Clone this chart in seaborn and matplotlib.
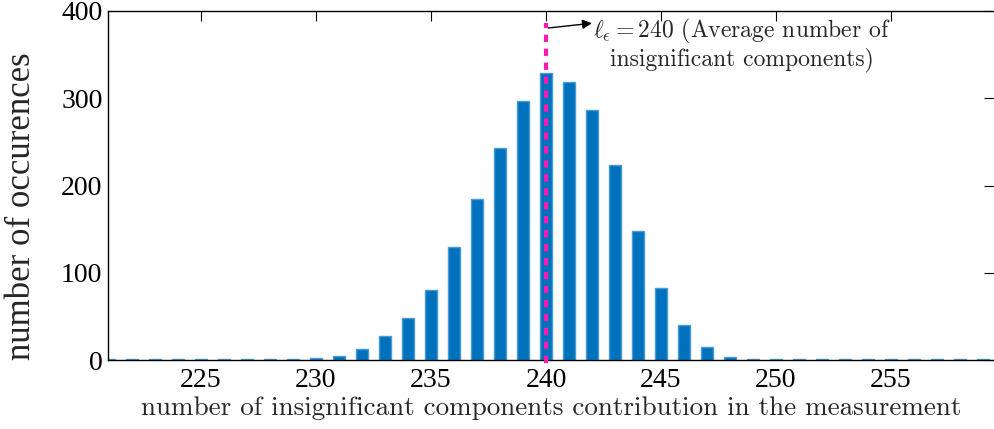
import numpy as np
import pandas as pd
import seaborn as sns
import matplotlib.pyplot as plt

# data
components = list(range(221, 260))
counts = [1, 1, 1, 1, 1, 1, 1, 1, 1, 2, 5, 13, 27, 48, 80, 129, 184, 243, 297, 329,
          319, 286, 223, 148, 83, 40, 15, 4, 1, 1, 1, 1, 1, 1, 1, 1, 1, 1, 1]
avg_components = 240
annot_text = "$\\ell_\\epsilon = 240$ (Average number of\ninsignificant components)"

df = pd.DataFrame({"components": components, "counts": counts})

sns.set_style("white")
plt.rcParams["mathtext.fontset"] = "cm"

fig = plt.figure(figsize=(9.95, 4.29), dpi=100)
ax = fig.add_axes([108 / 995, 69 / 429, 886.5 / 995, 349 / 429])

sns.barplot(data=df, x="components", y="counts", native_scale=True, width=0.5,
            color="#0072BD", saturation=1, edgecolor="#4A9BD4", linewidth=1.0, ax=ax)

# average marker
ax.vlines(avg_components, -4, 386, colors="#FF1AAE", linestyles=(0, (1.75, 1.6)),
          linewidth=3.0, clip_on=False, zorder=5)

ax.annotate("", xy=(242.0, 386), xytext=(avg_components + 0.1, 380.5),
            arrowprops=dict(arrowstyle="-|>", color="black", lw=1.0,
                            shrinkA=0, shrinkB=0, mutation_scale=14),
            annotation_clip=False)
ax.text(248.5, 362, annot_text, ha="center", va="center", fontsize=17,
        family="cmr10", linespacing=1.15)

ax.set_xlim(220.96, 259.5)
ax.set_ylim(0, 400)
ax.set_xticks([225, 230, 235, 240, 245, 250, 255])
ax.set_yticks([0, 100, 200, 300, 400])

tick_font = "Liberation Serif"
for lab in ax.get_xticklabels() + ax.get_yticklabels():
    lab.set_family(tick_font)
    lab.set_fontsize(20)

ax.tick_params(direction="in", length=7, width=0.8, top=True, right=True,
               colors="black", pad=4)
ax.tick_params(axis="x", pad=6)

ax.set_xlabel("number of insignificant components contribution in the measurement",
              family="cmr10", fontsize=19.5, labelpad=2)
ax.set_ylabel("number of occurences", family=tick_font, fontsize=25)
ax.yaxis.set_label_coords(-0.079, 0.44)

for side in ["left", "bottom", "top"]:
    ax.spines[side].set_visible(True)
    ax.spines[side].set_color("black")
    ax.spines[side].set_linewidth(1.0)
ax.spines["right"].set_visible(False)

fig.savefig("out.png", dpi=100)
